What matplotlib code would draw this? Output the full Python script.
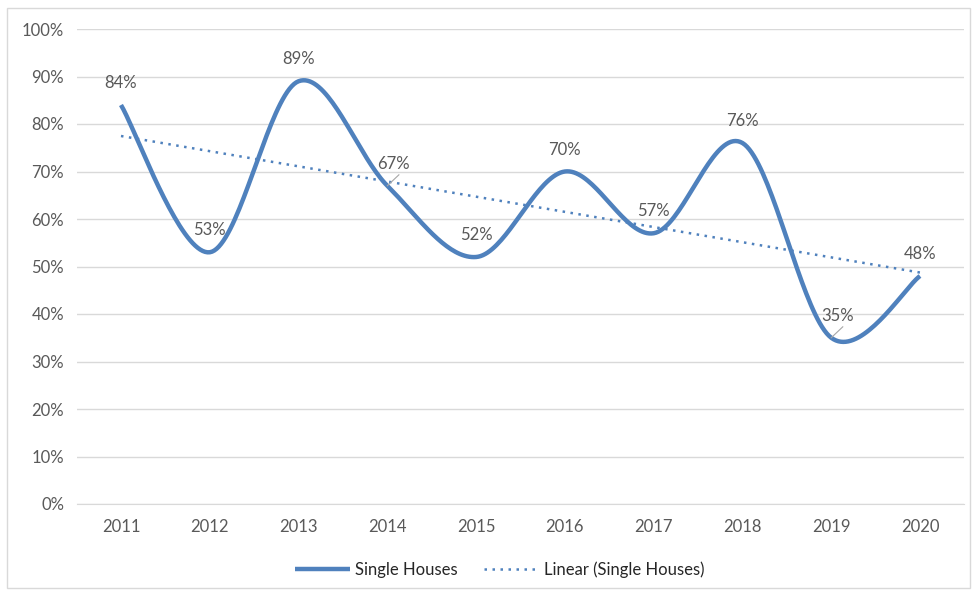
import numpy as np
import matplotlib.pyplot as plt
from matplotlib.patches import Rectangle

years = ['2011', '2012', '2013', '2014', '2015', '2016', '2017', '2018', '2019', '2020']
single_houses = [84, 53, 89, 67, 52, 70, 57, 76, 35, 48]

blue = '#4F81BD'
grey_txt = '#595959'
grid_c = '#D9D9D9'

plt.rcParams['font.family'] = ['Lato', 'DejaVu Sans']


def excel_smooth(x, y, n=40):
    # bezier smoothing like excel: control points from neighbours / 6
    x = np.asarray(x, float)
    y = np.asarray(y, float)
    px = np.concatenate([[x[0]], x, [x[-1]]])
    py = np.concatenate([[y[0]], y, [y[-1]]])
    xs, ys = [], []
    t = np.linspace(0, 1, n)
    for i in range(len(x) - 1):
        p0 = np.array([px[i + 1], py[i + 1]])
        p3 = np.array([px[i + 2], py[i + 2]])
        c1 = p0 + (np.array([px[i + 2], py[i + 2]]) - np.array([px[i], py[i]])) / 6
        c2 = p3 - (np.array([px[i + 3], py[i + 3]]) - np.array([px[i + 1], py[i + 1]])) / 6
        b = ((1 - t) ** 3)[:, None] * p0 + (3 * (1 - t) ** 2 * t)[:, None] * c1 \
            + (3 * (1 - t) * t ** 2)[:, None] * c2 + (t ** 3)[:, None] * p3
        xs.append(b[:, 0])
        ys.append(b[:, 1])
    return np.concatenate(xs), np.concatenate(ys)


x = np.arange(len(years))
sx, sy = excel_smooth(x, single_houses)
slope, icpt = np.polyfit(x, single_houses, 1)
trend = slope * x + icpt

fig = plt.figure(figsize=(9.74, 5.9), dpi=100)
fig.patches.append(Rectangle((7 / 974, 2 / 590), 963 / 974, 580 / 590, transform=fig.transFigure,
                             fill=False, edgecolor=grid_c, lw=1))
ax = fig.add_axes([76.6 / 974, 86 / 590, 887.8 / 974, 475 / 590])

ax.plot(sx, sy, color=blue, lw=3.2, solid_capstyle='butt', label='Single Houses', zorder=3)
ax.plot(x, trend, color=blue, lw=1.8, ls=(0, (1, 2.2)), label='Linear (Single Houses)', zorder=2)

ax.set_xlim(-0.5, len(years) - 0.5)
ax.set_ylim(0, 100)
ax.set_yticks(range(0, 101, 10))
ax.set_yticklabels([f'{v}%' for v in range(0, 101, 10)])
ax.set_xticks(x)
ax.set_xticklabels(years)
ax.grid(axis='y', color=grid_c, lw=1)
ax.set_axisbelow(True)
for s in ['top', 'right', 'left']:
    ax.spines[s].set_visible(False)
ax.spines['bottom'].set_color(grid_c)
ax.tick_params(length=0, colors=grey_txt, labelsize=12)
ax.tick_params(axis='x', pad=11)
ax.tick_params(axis='y', pad=9)

for i, v in enumerate(single_houses):
    dx = 0
    if years[i] in ('2014', '2019'):
        dx = 0.07
        ax.plot([i, i + 0.13], [v, v + 2.3], color='#A6A6A6', lw=0.8, zorder=4)
    ax.annotate(f'{v}%', (i + dx, v), xytext=(0, 10), textcoords='offset points',
                ha='center', va='bottom', fontsize=12, color=grey_txt, zorder=5)

leg = ax.legend(loc='upper center', bbox_to_anchor=(0.477, -0.09), ncol=2, frameon=False,
                fontsize=12, handlelength=3.3, columnspacing=1.6, handletextpad=0.3)
for t in leg.get_texts():
    t.set_color('#262626')

fig.savefig('out.png', dpi=100)
